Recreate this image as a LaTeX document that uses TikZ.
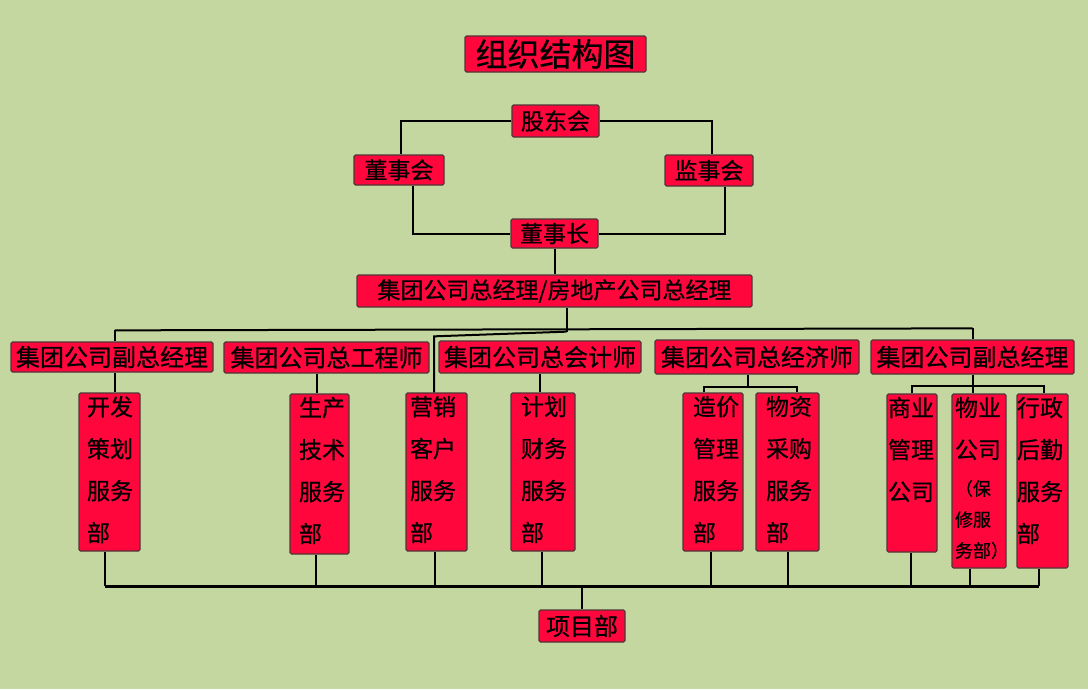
\documentclass[tikz,border=0pt]{standalone}
\usepackage{fontspec}
\setmainfont{Noto Sans CJK SC}[FakeBold=0.6]
\usetikzlibrary{calc}
\definecolor{bg}{RGB}{197,215,160}
\definecolor{boxred}{RGB}{255,6,60}
\definecolor{boxedge}{RGB}{80,55,55}
\newcommand\colcontent[4]{\makebox[#1][l]{\hspace*{#2}\parbox[c][#3][t]{52pt}{\fontsize{23}{42}\selectfont\vspace*{3pt}#4}}}
\tikzset{
  box/.style={draw=boxedge, line width=1.3pt, fill=boxred, rounded corners=1.5pt, inner sep=0pt, text=black},
  t1/.style={font=\fontsize{32}{32}\selectfont},
  t2/.style={font=\fontsize{23}{23}\selectfont},
  t3/.style={font=\fontsize{24}{24}\selectfont},
  conn/.style={line width=2pt, black},
  bus/.style={line width=3pt, black}
}
\begin{document}
\begin{tikzpicture}[x=1pt,y=-1pt]
\fill[bg] (0,0) rectangle (1088,689);
% top levels
\node[box,t1,minimum width=181pt,minimum height=36pt] (title) at (555.5,54) {组织结构图};
\node[box,t2,minimum width=87pt,minimum height=32pt] (gd) at (555.5,121) {股东会};
\node[box,t2,minimum width=90pt,minimum height=30pt] (dsh) at (399,170) {董事会};
\node[box,t2,minimum width=88pt,minimum height=31pt] (jsh) at (709,170.5) {监事会};
\node[box,t2,minimum width=87pt,minimum height=29pt] (dsz) at (554.5,233.5) {董事长};
\node[box,t2,minimum width=395pt,minimum height=32pt] (gm) at (554.5,291) {集团公司总经理/房地产公司总经理};
% level 2
\node[box,t3,minimum width=202pt,minimum height=30pt] (fgmA) at (112,357) {集团公司副总经理};
\node[box,t3,minimum width=205pt,minimum height=31pt] (zgcs) at (326.5,357.5) {集团公司总工程师};
\node[box,t3,minimum width=202pt,minimum height=32pt] (zkjs) at (540,357) {集团公司总会计师};
\node[box,t3,minimum width=204pt,minimum height=34pt] (zjjs) at (757,357) {集团公司总经济师};
\node[box,t3,minimum width=203pt,minimum height=34pt] (fgmB) at (972.5,357) {集团公司副总经理};
% level 3
\node[box] (kf) at (109.5,472) {\colcontent{61pt}{8pt}{158pt}{开发\par 策划\par 服务\par 部}};
\node[box] (sc) at (319.5,474) {\colcontent{59pt}{9pt}{160pt}{生产\par 技术\par 服务\par 部}};
\node[box] (yx) at (436.5,472) {\colcontent{61pt}{4pt}{158pt}{营销\par 客户\par 服务\par 部}};
\node[box] (jh) at (543,472) {\colcontent{64pt}{10pt}{158pt}{计划\par 财务\par 服务\par 部}};
\node[box] (zj) at (713,472) {\colcontent{60pt}{10pt}{158pt}{造价\par 管理\par 服务\par 部}};
\node[box] (wz) at (787.5,472) {\colcontent{63pt}{10pt}{158pt}{物资\par 采购\par 服务\par 部}};
\node[box] (sy) at (912,473) {\colcontent{50pt}{1pt}{158pt}{商业\par 管理\par 公司}};
\node[box] (wy) at (979,481) {\colcontent{54pt}{3pt}{174pt}{物业\par 公司\par\vspace{6pt}\fontsize{18}{31}\selectfont （保\par 修服\par 务部）}};
\node[box] (xz) at (1042.5,481) {\colcontent{51pt}{0pt}{174pt}{行政\par 后勤\par 服务\par 部}};
% bottom
\node[box,t3,minimum width=86pt,minimum height=32pt] (xm) at (582,626) {项目部};

% connectors top
\draw[conn] (gd.west) -| ([xshift=2pt]dsh.north);
\draw[conn] (gd.east) -| ([xshift=3pt]jsh.north);
\draw[conn] ([xshift=14pt]dsh.south) |- (dsz.west);
\draw[conn] ([xshift=16pt]jsh.south) |- (dsz.east);
\draw[conn] (dsz.south) -- (dsz.south |- gm.north);
% GM to level 2
\coordinate (hub) at ($([xshift=12pt]gm.south)+(0,24)$);
\coordinate (hL) at ($([xshift=3pt]fgmA.north)+(0,-11)$);
\coordinate (hR) at ($(fgmB.north)+(0,-11)$);
\draw[conn] ([xshift=12pt]gm.south) -- (hub);
\draw[conn] (hL) -- (hR);
\draw[conn] (hL) -- ([xshift=3pt]fgmA.north);
\draw[conn] (hR) -- (fgmB.north);
\draw[conn] (hub) -- ($([xshift=-2.5pt]yx.north)+(0,-56)$) -- ([xshift=-2.5pt]yx.north);
% level 2 to level 3
\draw[conn] ([xshift=3pt]fgmA.south) -- ([xshift=3pt]fgmA.south |- kf.north);
\draw[conn] ([xshift=-9.5pt]zgcs.south) -- ([xshift=-9.5pt]zgcs.south |- sc.north);
\draw[conn] (zkjs.south) -- (zkjs.south |- jh.north);
\coordinate (eJ) at ($([xshift=-9pt]zjjs.south)+(0,12)$);
\draw[conn] ([xshift=-9pt]zjjs.south) -- (eJ);
\draw[conn] ([xshift=-9pt]zj.north) |- (eJ) -| ([xshift=9.5pt]wz.north);
\coordinate (fJ) at ($(fgmB.south)+(0,11)$);
\draw[conn] (fgmB.south) -- (fJ);
\draw[conn] (sy.north) |- (fJ) -| ([xshift=1.5pt]xz.north);
\draw[conn] (fJ) -- (fJ |- wy.north);
% bus to project
\coordinate (busL) at (105,586);
\coordinate (busR) at (1039,586);
\draw[bus] (busL) -- (busR);
\foreach \n/\d in {kf/-4.5,sc/-3.5,yx/-1.5,jh/-1,zj/-2,wz/0.5,sy/-1,wy/-9,xz/-3.5}{
  \draw[conn] ([xshift=\d pt]\n.south) -- ([xshift=\d pt]\n.south |- busL);
}
\draw[conn] (xm.north) -- (xm.north |- busL);
\end{tikzpicture}
\end{document}
